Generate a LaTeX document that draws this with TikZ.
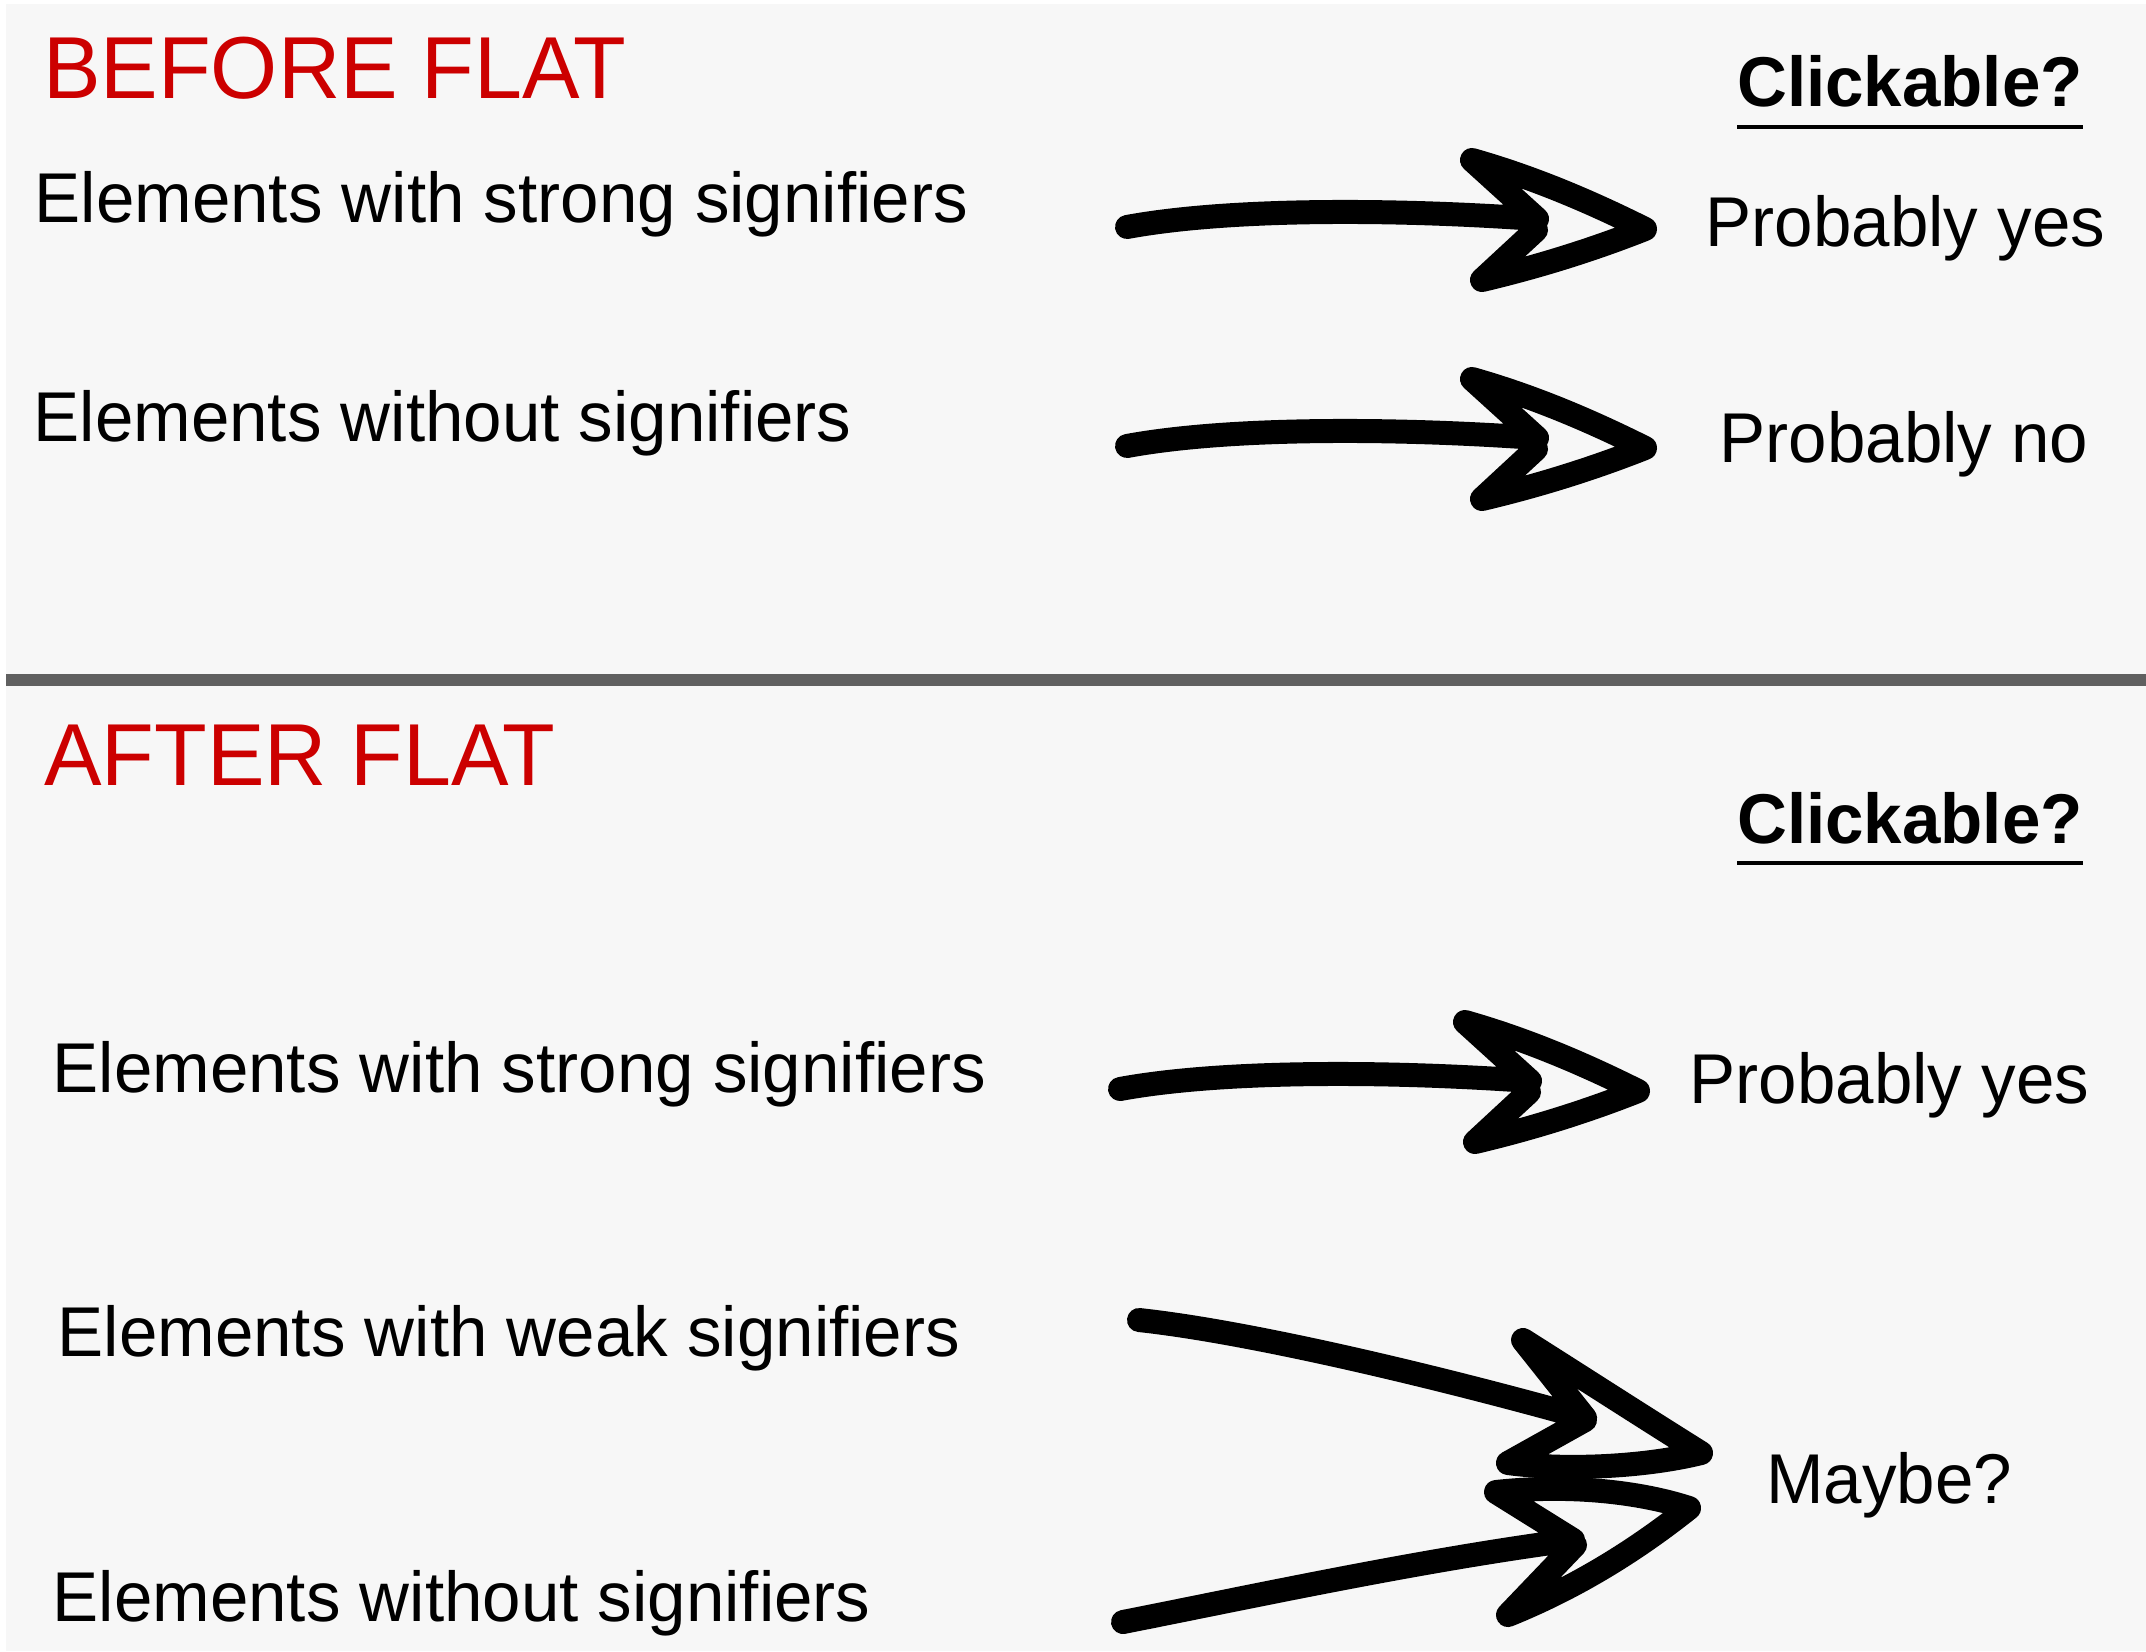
\documentclass[tikz,border=0pt]{standalone}
\usepackage{fontspec}
\setmainfont[FakeStretch=0.98]{Liberation Sans}
\definecolor{bg}{HTML}{F7F7F7}
\definecolor{rulegray}{HTML}{606060}
\definecolor{titlered}{HTML}{CC0000}
\begin{document}
\begin{tikzpicture}[x=1pt,y=-1pt,
  txt/.style={anchor=base west, inner sep=0pt, font=\fontsize{70.5}{80}\selectfont},
  ttl/.style={anchor=base west, inner sep=0pt, text=titlered, font=\fontsize{88}{100}\selectfont},
  hdr/.style={anchor=base west, inner sep=0pt, font=\fontsize{70.5}{80}\selectfont\bfseries},
  uline/.style={line width=3.5pt},
  sketch/.style={line width=24pt, line cap=round, line join=round},
]
\useasboundingbox (0,0) rectangle (2146,1651);
\fill[white] (0,0) rectangle (2146,1651);
\fill[bg] (6,4) rectangle (2146,1651);
\fill[rulegray] (6,674) rectangle (2146,686);

% BEFORE FLAT
\node[ttl] (before) at (43,99) {BEFORE FLAT};
\node[hdr] (click1) at (1737,107) {Clickable?};
\draw[uline] ([yshift=-20pt]click1.base west) -- ([yshift=-20pt]click1.base east);
\node[txt] (b1) at (34.5,222) {Elements with strong signifiers};
\node[txt] (b2) at (33.5,441) {Elements without signifiers};
\node[txt] (r1) at (1705.5,246) {Probably yes};
\node[txt] (r2) at (1719.5,462) {Probably no};

% AFTER FLAT
\node[ttl] (after) at (44,785) {AFTER FLAT};
\node[hdr] (click2) at (1737,843) {Clickable?};
\draw[uline] ([yshift=-20pt]click2.base west) -- ([yshift=-20pt]click2.base east);
\node[txt] (a1) at (52.5,1092) {Elements with strong signifiers};
\node[txt] (a2) at (57.5,1356) {Elements with weak signifiers};
\node[txt] (a3) at (52.5,1621) {Elements without signifiers};
\node[txt] (r3) at (1689.5,1103) {Probably yes};
\node[txt] (r4) at (1766,1503) {Maybe?};

% arrow end points
\coordinate (t1) at (1127,227);  \coordinate (n1) at (1537,219);
\coordinate (t2) at (1127,446);  \coordinate (n2) at (1537,438);
\coordinate (t3) at (1120,1089); \coordinate (n3) at (1530,1081);
\coordinate (t4) at (1139,1320); \coordinate (n4) at (1585,1418);
\coordinate (t5) at (1123,1622); \coordinate (n5) at (1573,1540);

% straight sketch arrows (shaft + open hand-drawn head)
\draw[sketch] (t1) .. controls +(103,-19) and +(-140,-10) .. (n1)
  -- ++(-65,-59) .. controls +(60,17) and +(-56,-28) .. ++(173,69)
  .. controls +(-53,21) and +(55,-13) .. ++(-163,51) -- ++(54,-50);
\draw[sketch] (t2) .. controls +(103,-19) and +(-140,-10) .. (n2)
  -- ++(-65,-59) .. controls +(60,17) and +(-56,-28) .. ++(173,69)
  .. controls +(-53,21) and +(55,-13) .. ++(-163,51) -- ++(54,-50);
\draw[sketch] (t3) .. controls +(103,-19) and +(-140,-10) .. (n3)
  -- ++(-65,-59) .. controls +(60,17) and +(-56,-28) .. ++(173,69)
  .. controls +(-53,21) and +(55,-13) .. ++(-163,51) -- ++(54,-50);

% converging arrows
\draw[sketch] (t4) .. controls +(111,12) and +(-150,-42) .. (n4)
  -- (1523,1340) .. controls (1583,1378) and (1645,1418) .. (1701,1453)
  .. controls (1640,1468) and (1560,1470) .. (1508,1463) -- (1585,1420);
\draw[sketch] (t5) .. controls +(127,-25) and +(-153,20) .. (n5)
  -- (1496,1492) .. controls (1570,1484) and (1640,1492) .. (1689,1508)
  .. controls (1630,1555) and (1570,1590) .. (1508,1615) -- (1575,1545);
\end{tikzpicture}
\end{document}
